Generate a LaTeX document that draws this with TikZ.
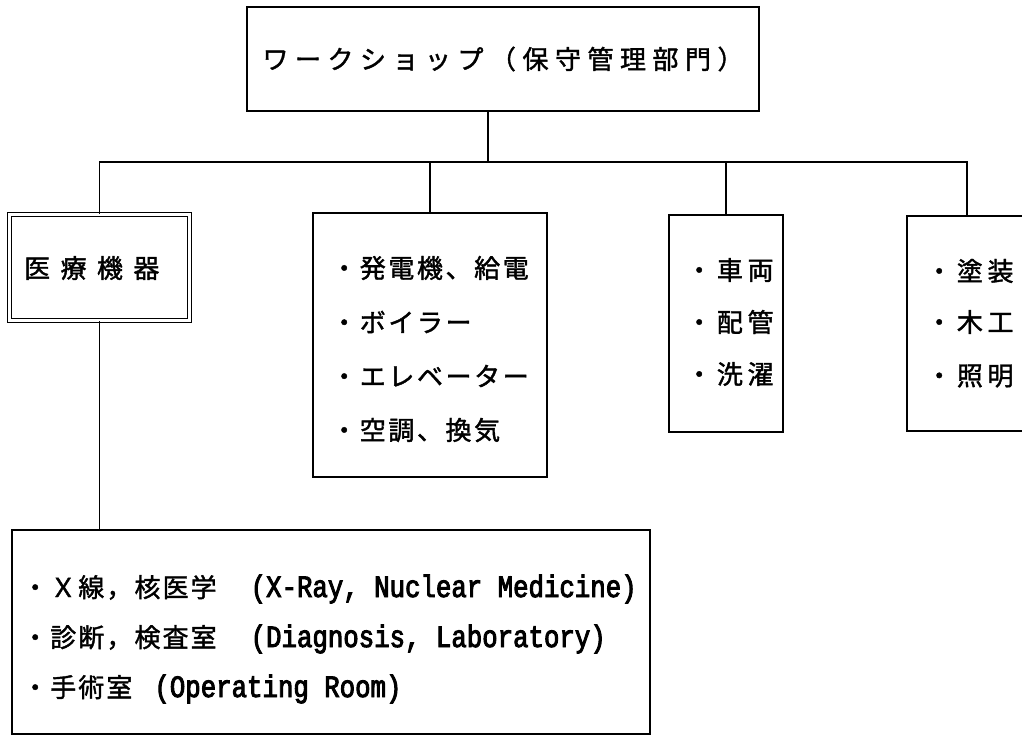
\documentclass[tikz,border=0pt]{standalone}
\usepackage{fontspec}
\newfontfamily\jp[FakeBold=1.5]{Noto Sans CJK JP}
\newfontfamily\lat[FakeStretch=0.83,FakeBold=3]{Liberation Mono}
\tikzset{
  box/.style={draw, line width=1.5pt, inner sep=0pt},
  dbox/.style={draw, double, double distance=2.4pt, line width=1.1pt, inner sep=0pt},
  link/.style={line width=1.5pt},
  row/.style={anchor=west, inner sep=0pt},
  jpA/.style={font=\jp\fontsize{26}{26}\selectfont\addfontfeature{LetterSpace=10}},
  jpL/.style={font=\jp\fontsize{26}{26}\selectfont\addfontfeature{LetterSpace=8}},
  jpB/.style={font=\jp\fontsize{26}{26}\selectfont\addfontfeature{LetterSpace=18}},
  jpT/.style={font=\jp\fontsize{26}{26}\selectfont\addfontfeature{LetterSpace=25}},
  jpM/.style={font=\jp\fontsize{26}{26}\selectfont\addfontfeature{LetterSpace=40}},
}
\newcommand{\latt}[1]{{\lat\fontsize{31}{31}\selectfont #1}}
\begin{document}
\begin{tikzpicture}[x=1pt,y=-1pt]
\useasboundingbox (0,0) rectangle (1022,737);
% boxes
\node[box, jpT, minimum width=512, minimum height=104] (top) at (503,59) {ワークショップ（保守管理部門）};
\node[dbox, minimum width=180, minimum height=106] (b1) at (99.5,267.5) {};
\node[jpM, anchor=west, inner sep=0pt] (t1) at (24,268) {医療機器};
\node[box, minimum width=234, minimum height=264] (b2) at (430,345) {};
\node[box, minimum width=114, minimum height=217] (b3) at (726,323.5) {};
\node[box, minimum width=120, minimum height=215] (b4) at (967,323.5) {};
\node[box, minimum width=638, minimum height=204] (b5) at (331,632) {};
% rows in box 2
\node[row, jpA] (r21) at (331,268) {・発電機、給電};
\node[row, jpA] (r22) at (331,322) {・ボイラー};
\node[row, jpA] (r23) at (331,376) {・エレベーター};
\node[row, jpA] (r24) at (331,430) {・空調、換気};
% rows in box 3
\node[row, jpB] (r31) at (686,270) {・車両};
\node[row, jpB] (r32) at (686,322) {・配管};
\node[row, jpB] (r33) at (686,374) {・洗濯};
% rows in box 4
\node[row, jpB] (r41) at (926,271) {・塗装};
\node[row, jpB] (r42) at (926,322) {・木工};
\node[row, jpB] (r43) at (926,376) {・照明};
% rows in box 5
\node[row, jpL] (r51) at (22,589) {・Ｘ線，核医学\hspace{34pt}\latt{(X-Ray, Nuclear Medicine)}};
\node[row, jpL] (r52) at (22,639) {・診断，検査室\hspace{34pt}\latt{(Diagnosis, Laboratory)}};
\node[row, jpL] (r53) at (22,689) {・手術室\hspace{22pt}\latt{(Operating Room)}};
% connectors
\coordinate (bus) at (488,162);
\draw[link] (top.south -| bus) -- (bus);
\draw[link] (b1.north) -- (b1.north |- bus) -- (b4.north |- bus) -- (b4.north);
\draw[link] (b2.north) -- (b2.north |- bus);
\draw[link] (b3.north) -- (b3.north |- bus);
\draw[link] (b1.south) -- (b1.south |- b5.north);
\end{tikzpicture}
\end{document}
